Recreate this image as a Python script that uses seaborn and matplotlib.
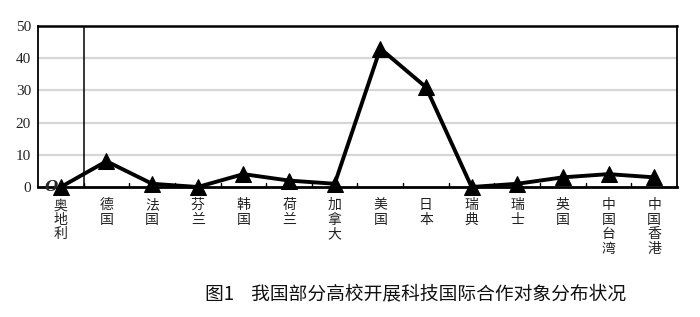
import matplotlib
matplotlib.use("Agg")
import matplotlib.pyplot as plt
import seaborn as sns
import pandas as pd

countries = ["奥地利", "德国", "法国", "芬兰", "韩国", "荷兰", "加拿大",
             "美国", "日本", "瑞典", "瑞士", "英国", "中国台湾", "中国香港"]
counts = [0, 8, 1, 0, 4, 2, 1, 43, 31, 0, 1, 3, 4, 3]
yticks = [0, 10, 20, 30, 40, 50]
caption = "图1    我国部分高校开展科技国际合作对象分布状况"

sns.set_theme(style="white")
plt.rcParams['font.family'] = ['Noto Sans CJK SC', 'DejaVu Sans']

df = pd.DataFrame({"country": countries, "count": counts})
df["pos"] = range(len(countries))

fig = plt.figure(figsize=(7.0, 3.17), dpi=100)
ax = fig.add_axes([38/700, 1-187/317, 639/700, 161/317])

sns.lineplot(data=df, x="pos", y="count", ax=ax, sort=False, color="black",
             linewidth=2.8, marker="^", markersize=11.5, markeredgecolor="black",
             markerfacecolor="black", clip_on=False, zorder=5)

ax.set_xlim(-0.5, len(countries) - 0.5)
ax.set_ylim(0, 50)
ax.set_yticks(yticks)
ax.set_yticklabels([str(v) for v in yticks], family="Liberation Serif", fontsize=11)
ax.tick_params(axis="y", length=0, pad=5, colors="#222222")
for v in yticks[1:-1]:
    ax.axhline(v, color="#d6d6d6", linewidth=1.6, zorder=1)

ax.set_xticks(range(len(countries)))
ax.set_xticklabels(["\n".join(c) for c in countries], fontsize=10, linespacing=1.05,
                   va="top")
ax.tick_params(axis="x", length=0, pad=8, colors="#222222")
# small boundary ticks pointing inward
for b in range(1, len(countries)):
    ax.plot([b - 0.5, b - 0.5], [0, 1.2], color="black", linewidth=1, zorder=2)
ax.axvline(0.5, color="black", linewidth=1.1, zorder=2)

for side, lw in [("top", 1.8), ("bottom", 2.0), ("left", 1.3), ("right", 1.3)]:
    ax.spines[side].set_visible(True)
    ax.spines[side].set_color("black")
    ax.spines[side].set_linewidth(lw)

ax.set_xlabel("")
ax.set_ylabel("")
ax.text(-0.2, 0, "O", fontsize=11, fontweight="bold", style="italic",
        family="DejaVu Serif", ha="center", va="center", zorder=6)

fig.text(205/700, 1-295/317, caption, fontsize=13.5, ha="left", va="center",
         color="#111111")

fig.savefig("out.png", dpi=100, facecolor="white")
